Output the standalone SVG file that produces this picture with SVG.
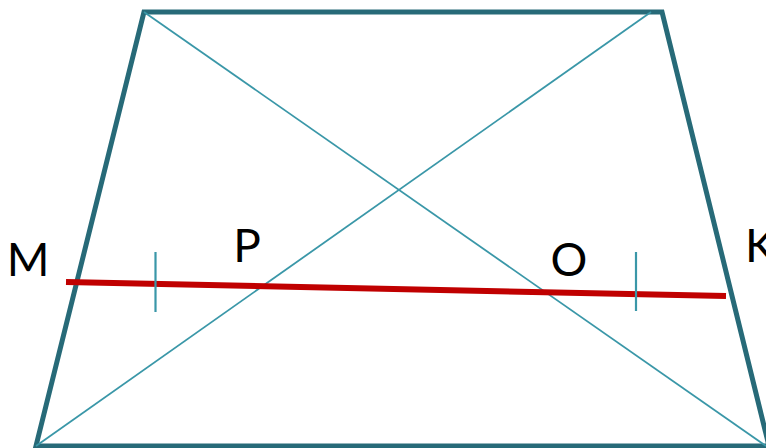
<svg xmlns="http://www.w3.org/2000/svg" width="766" height="448" viewBox="0 0 766 448">
<style>
.edge{fill:none;stroke:#276a78;stroke-width:5;stroke-linejoin:miter}
.diag{stroke:#3a97a8;stroke-width:1.8;fill:none}
.tick{stroke:#3a97a8;stroke-width:2.2}
.mid{stroke:#c00000;stroke-width:6;fill:none}
.lbl{font-family:"Lato","Liberation Sans",sans-serif;font-size:46px;fill:#000}
</style>
<rect width="766" height="448" fill="#fff"/>
<g id="trapezoid">
<polygon class="edge" points="144,12 662,12 769,446 36,446"/>
</g>
<g id="connectors">
<line class="diag" x1="144" y1="12" x2="766" y2="446"/>
<line class="diag" x1="36" y1="446" x2="651" y2="12"/>
<line class="mid" x1="66" y1="282" x2="726" y2="296"/>
<line class="tick" x1="155.5" y1="252" x2="155.5" y2="312"/>
<line class="tick" x1="636" y1="252" x2="636" y2="311"/>
</g>
<g id="labels">
<text class="lbl" x="28" y="276" text-anchor="middle">M</text>
<text class="lbl" x="247" y="262" text-anchor="middle">P</text>
<text class="lbl" x="569" y="276" text-anchor="middle">O</text>
<text class="lbl" x="745" y="262">K</text>
</g>
</svg>
